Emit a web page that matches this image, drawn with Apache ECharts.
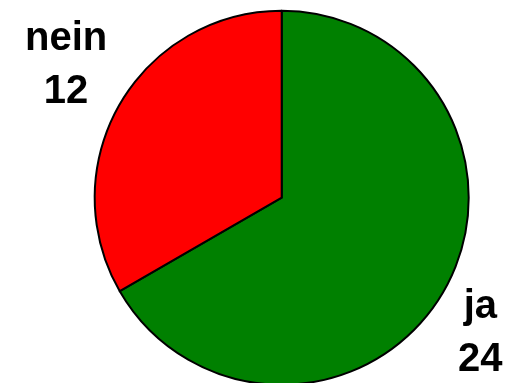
<!DOCTYPE html>
<html>
<head>
<meta charset="utf-8">
<script src="https://cdn.jsdelivr.net/npm/echarts@6/dist/echarts.min.js"></script>
<style>html,body{margin:0;padding:0;background:#fff;}#c{width:507px;height:383px;}</style>
</head>
<body>
<div id="c"></div>
<script>
var categories = ['ja', 'nein'];
var values = [24, 12];
var colors = ['#008000', '#ff0000'];
var labelOffsets = [[-17, 11], [0, -8]];

var chart = echarts.init(document.getElementById('c'), null, {renderer: 'canvas'});
var center = [281.7, 197.7];
var mainData = categories.map(function (c, i) {
  return {name: c, value: values[i], itemStyle: {color: colors[i]}};
});
var labelData = categories.map(function (c, i) {
  return {name: c, value: values[i], label: {offset: labelOffsets[i]}};
});
chart.setOption({
  backgroundColor: '#ffffff',
  animation: false,
  series: [{
    type: 'pie',
    center: center,
    radius: 187,
    startAngle: 90,
    clockwise: true,
    silent: true,
    label: {show: false},
    labelLine: {show: false},
    itemStyle: {borderColor: '#000', borderWidth: 2},
    emphasis: {disabled: true},
    data: mainData
  }, {
    type: 'pie',
    center: center,
    radius: [0, 492],
    startAngle: 90,
    clockwise: true,
    silent: true,
    z: 5,
    itemStyle: {color: 'rgba(0,0,0,0)', borderWidth: 0},
    emphasis: {disabled: true},
    labelLine: {show: false},
    label: {
      show: true,
      position: 'inside',
      formatter: '{b}\n{c}',
      fontFamily: '"Liberation Sans", Arial, sans-serif',
      fontWeight: 'bold',
      fontSize: 40,
      lineHeight: 53,
      color: '#000',
      align: 'center',
      verticalAlign: 'middle'
    },
    data: labelData
  }]
});
</script>
</body>
</html>
